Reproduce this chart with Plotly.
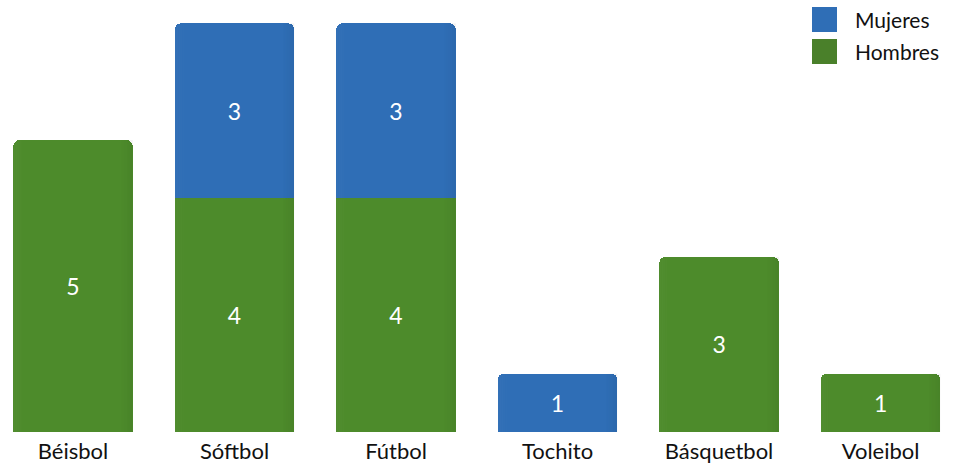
import plotly.graph_objects as go

# Deportes y número de participantes por sexo
deportes = ["Béisbol", "Sóftbol", "Fútbol", "Tochito", "Básquetbol", "Voleibol"]
hombres = [5, 4, 4, 0, 3, 1]
mujeres = [0, 3, 3, 1, 0, 0]

verde = "#4d8b2b"
azul = "#2f6eb6"


def etiquetas(valores):
    return [str(v) if v else "" for v in valores]


fig = go.Figure()
fig.add_trace(go.Bar(
    x=deportes, y=hombres, name="Hombres",
    marker=dict(color=verde, line=dict(width=0)),
    text=etiquetas(hombres), textposition="inside", insidetextanchor="middle",
    textfont=dict(color="white", size=23, family="Lato"),
    showlegend=False,
))
fig.add_trace(go.Bar(
    x=deportes, y=mujeres, name="Mujeres",
    marker=dict(color=azul, line=dict(width=0)),
    text=etiquetas(mujeres), textposition="inside", insidetextanchor="middle",
    textfont=dict(color="white", size=23, family="Lato"),
    showlegend=False,
))

# Sombreado suave en los bordes de cada segmento para dar volumen
half = (1 - 0.26) / 2
base = [0] * len(deportes)
for serie in (hombres, mujeres):
    for i, v in enumerate(serie):
        if v:
            y0, y1 = base[i], base[i] + v
            pasos = 6
            for s in range(pasos):
                w = 0.012
                fig.add_shape(type="rect", xref="x", yref="y",
                              x0=i + half - (s + 1) * w, x1=i + half - s * w,
                              y0=y0, y1=y1,
                              fillcolor=f"rgba(0,0,0,{0.05 * (pasos - s) / pasos:.3f})",
                              line_width=0, layer="above")
                fig.add_shape(type="rect", xref="x", yref="y",
                              x0=i - half + s * w, x1=i - half + (s + 1) * w,
                              y0=y0, y1=y1,
                              fillcolor=f"rgba(255,255,255,{0.025 * (pasos - s) / pasos:.3f})",
                              line_width=0, layer="above")
            base[i] = y1

# Leyenda dibujada con cuadros grandes
leyenda = [("Mujeres", azul), ("Hombres", "#4a802a")]
for k, (nombre, color) in enumerate(leyenda):
    y_top = 7 + k * 32
    fig.add_shape(type="rect", xref="paper", yref="paper",
                  x0=812 / 961, x1=837 / 961,
                  y0=1 - (y_top + 25) / 432, y1=1 - y_top / 432,
                  fillcolor=color, line_width=0)
    fig.add_annotation(xref="paper", yref="paper", x=853 / 961, y=1 - (y_top + 12.5) / 432,
                       text=nombre, showarrow=False, xanchor="left", yanchor="middle",
                       font=dict(size=21, family="Lato", color="#111"))

fig.update_layout(
    barmode="stack",
    bargap=0.26,
    barcornerradius=6,
    width=961, height=466,
    margin=dict(l=0, r=0, t=0, b=34),
    paper_bgcolor="white", plot_bgcolor="white",
    xaxis=dict(range=[-0.452, 5.498], showgrid=False, zeroline=False, showline=False,
               ticks="", ticklabelstandoff=4,
               tickfont=dict(size=22, family="Lato", color="#111")),
    yaxis=dict(range=[0, 7.4], visible=False),
)

fig.write_html("out.html")
